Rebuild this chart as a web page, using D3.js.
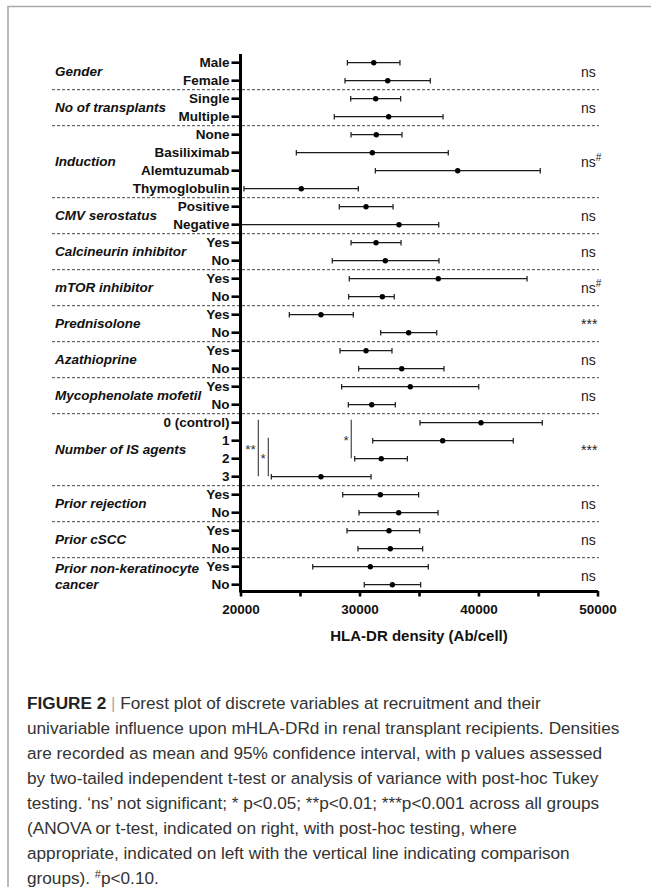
<!DOCTYPE html>
<html>
<head>
<meta charset="utf-8">
<script src="https://cdn.jsdelivr.net/npm/d3@7"></script>
<style>
  body { margin: 0; background: #fff; }
  svg { display: block; font-family: "Liberation Sans", Arial, sans-serif; }
  .noselect { user-select: none; }
</style>
</head>
<body>
<svg width="651" height="887"></svg>
<script>
// group headings and overall test result on the right
const groupNames = ["Gender", "No of transplants", "Induction", "CMV serostatus", "Calcineurin inhibitor",
    "mTOR inhibitor", "Prednisolone", "Azathioprine", "Mycophenolate mofetil", "Number of IS agents",
    "Prior rejection", "Prior cSCC", "Prior non-keratinocyte cancer"];
const groupSig = ["ns", "ns", "ns#", "ns", "ns", "ns#", "***", "ns", "ns", "***", "ns", "ns", "ns"];

// one entry per row
const rowGroup = [0,0, 1,1, 2,2,2,2, 3,3, 4,4, 5,5, 6,6, 7,7, 8,8, 9,9,9,9, 10,10, 11,11, 12,12];
const rowLabels = ["Male", "Female", "Single", "Multiple", "None", "Basiliximab", "Alemtuzumab", "Thymoglobulin",
    "Positive", "Negative", "Yes", "No", "Yes", "No", "Yes", "No", "Yes", "No", "Yes", "No",
    "0 (control)", "1", "2", "3", "Yes", "No", "Yes", "No", "Yes", "No"];
const means = [31200, 32370, 31360, 32450, 31410, 31080, 38250, 25110, 30550, 33320, 31390, 32170, 36620, 31920,
    26760, 34130, 30550, 33550, 34270, 31030, 40210, 36990, 31830, 26760, 31750, 33290, 32480, 32590, 30910, 32760];
const lower = [28980, 28780, 29260, 27880, 29290, 24690, 31330, 20290, 28300, 18500, 29290, 27710, 29140, 29090,
    24100, 31780, 28360, 29930, 28500, 29060, 35080, 31110, 29600, 22590, 28590, 29960, 28950, 29870, 26070, 30400];
const upper = [33400, 35950, 33460, 37020, 33570, 37460, 45190, 29900, 32820, 36660, 33490, 36680, 44080, 32920,
    29480, 36490, 32730, 37100, 40020, 33010, 45360, 42920, 34020, 30970, 34970, 36600, 35060, 35310, 35780, 35140];

// post-hoc comparisons (row indices), drawn as vertical lines on the left
const phFrom = [20, 21, 20];
const phTo = [23, 23, 22];
const phX = [21500, 22340, 29310];
const phLabel = ["**", "*", "*"];

const xTicks = [20000, 25000, 30000, 35000, 40000, 45000, 50000];

const captionLines = [
    "univariable influence upon mHLA-DRd in renal transplant recipients. Densities",
    "are recorded as mean and 95% confidence interval, with p values assessed",
    "by two-tailed independent t-test or analysis of variance with post-hoc Tukey",
    "testing. \u2018ns\u2019 not significant; * p<0.05; **p<0.01; ***p<0.001 across all groups",
    "(ANOVA or t-test, indicated on right, with post-hoc testing, where",
    "appropriate, indicated on left with the vertical line indicating comparison"
];

let svg = d3.select("svg");

// frame
svg.append("path").attr("d", "M8,887 V6.5 H651").attr("fill", "none")
    .attr("stroke", "#aaa").attr("stroke-width", 1.6);

const axisX0 = 240.5, axisTop = 54, axisBottom = 591;

let x = d3.scaleLinear().domain([20000, 50000]).range([axisX0, 597.5]);
let y = d3.scaleBand().domain(d3.range(rowLabels.length)).range([53.7, 593.7]);
const yc = i => y(i) + y.bandwidth() / 2;

// group extents
let groupRows = groupNames.map((g, gi) => d3.range(rowLabels.length).filter(i => rowGroup[i] === gi));

// dotted separators between groups
groupRows.slice(1).forEach(rows => {
    svg.append("line")
        .attr("x1", 52).attr("x2", 599)
        .attr("y1", y(rows[0])).attr("y2", y(rows[0]))
        .attr("stroke", "#444").attr("stroke-width", 1).attr("stroke-dasharray", "3,2");
});

// group labels
groupRows.forEach((rows, gi) => {
    let mid = (yc(rows[0]) + yc(rows[rows.length - 1])) / 2;
    let t = svg.append("text").attr("class", "noselect")
        .attr("x", 55).attr("font-size", 13.5).attr("font-weight", "bold").attr("font-style", "italic")
        .attr("fill", "#111");
    if (groupNames[gi] === "Prior non-keratinocyte cancer") {
        t.attr("y", mid - 7.7).attr("dominant-baseline", "central");
        t.append("tspan").attr("x", 55).text("Prior non-keratinocyte");
        t.append("tspan").attr("x", 55).attr("dy", 15.5).text("cancer");
    } else {
        t.attr("y", mid).attr("dominant-baseline", "central").text(groupNames[gi]);
    }

    // overall test on the right
    let s = svg.append("text").attr("x", 581).attr("y", mid + 5)
        .attr("font-size", 14).attr("fill", "#222");
    let sig = groupSig[gi];
    if (sig.endsWith("#")) {
        s.append("tspan").text(sig.slice(0, -1));
        s.append("tspan").attr("font-size", 10).attr("dy", -6).text("#");
    } else {
        s.text(sig);
    }
});

// error bars
let clip = svg.append("clipPath").attr("id", "plotClip");
clip.append("rect").attr("x", axisX0).attr("y", 0).attr("width", 400).attr("height", 887);

let bars = svg.append("g").attr("clip-path", "url(#plotClip)");
let rowsG = bars.selectAll(".row").data(d3.range(rowLabels.length)).enter()
    .append("g").attr("class", "row");

rowsG.append("line")
    .attr("x1", i => x(lower[i])).attr("x2", i => x(upper[i]))
    .attr("y1", i => yc(i)).attr("y2", i => yc(i))
    .attr("stroke", "#1a1a1a").attr("stroke-width", 1.3);
[lower, upper].forEach(arr => {
    rowsG.append("line")
        .attr("x1", i => x(arr[i])).attr("x2", i => x(arr[i]))
        .attr("y1", i => yc(i) - 2.8).attr("y2", i => yc(i) + 2.8)
        .attr("stroke", "#1a1a1a").attr("stroke-width", 1.2);
});
rowsG.append("circle")
    .attr("cx", i => x(means[i])).attr("cy", i => yc(i)).attr("r", 2.7)
    .attr("fill", "#000");

// post-hoc lines
phFrom.forEach((f, k) => {
    let y1 = yc(f) - 3, y2 = yc(phTo[k]) - 0.5;
    svg.append("line")
        .attr("x1", x(phX[k])).attr("x2", x(phX[k]))
        .attr("y1", y1).attr("y2", y2)
        .attr("stroke", "#555").attr("stroke-width", 1.3);
    svg.append("text")
        .attr("x", x(phX[k]) - 2.5).attr("y", (y1 + y2) / 2 + 6.5)
        .attr("text-anchor", "end").attr("font-size", 13.5).attr("fill", "#333")
        .text(phLabel[k]);
});

// y axis (category labels)
let yAxis = svg.append("g").attr("class", "noselect")
    .attr("transform", "translate(" + axisX0 + ",0)")
    .call(d3.axisLeft(y).tickSize(9).tickSizeOuter(0).tickPadding(2).tickFormat(i => rowLabels[i]));
yAxis.select(".domain").remove();
yAxis.selectAll(".tick line").attr("stroke", "#000").attr("stroke-width", 2.6);
yAxis.selectAll(".tick text")
    .attr("font-family", "\"Liberation Sans\", Arial, sans-serif")
    .attr("font-size", 13.5).attr("font-weight", "bold").attr("fill", "#111");
svg.append("line")
    .attr("x1", axisX0).attr("x2", axisX0).attr("y1", axisTop).attr("y2", axisBottom + 1.5)
    .attr("stroke", "#000").attr("stroke-width", 3);

// x axis
let xAxis = svg.append("g").attr("class", "noselect")
    .attr("transform", "translate(0," + axisBottom + ")")
    .call(d3.axisBottom(x).tickValues(xTicks).tickSize(5.5).tickSizeOuter(0).tickPadding(8)
        .tickFormat(d => d % 10000 === 0 ? d3.format("d")(d) : ""));
xAxis.select(".domain").attr("stroke", "#000").attr("stroke-width", 3);
xAxis.selectAll(".tick line").attr("stroke", "#000").attr("stroke-width", 2.6);
xAxis.selectAll(".tick text")
    .attr("font-family", "\"Liberation Sans\", Arial, sans-serif")
    .attr("font-size", 13.5).attr("font-weight", "bold").attr("fill", "#111");

svg.append("text")
    .attr("x", x(35000)).attr("y", 640.5)
    .attr("text-anchor", "middle").attr("font-size", 15).attr("font-weight", "bold").attr("fill", "#111")
    .text("HLA-DR density (Ab/cell)");

// caption
const capX = 27, capY0 = 709, capStep = 25, capSize = 17.2;
let cap = svg.append("g").attr("font-size", capSize).attr("fill", "#333");
let l1 = cap.append("text").attr("x", capX).attr("y", capY0);
l1.append("tspan").attr("font-weight", "bold").attr("fill", "#222").text("FIGURE 2");
l1.append("tspan").attr("fill", "#aaa").text(" | ");
l1.append("tspan").text("Forest plot of discrete variables at recruitment and their");
captionLines.forEach((s, k) => {
    cap.append("text").attr("x", capX).attr("y", capY0 + capStep * (k + 1)).text(s);
});
let last = cap.append("text").attr("x", capX).attr("y", capY0 + capStep * 7);
last.append("tspan").text("groups). ");
last.append("tspan").attr("font-size", 11).attr("dy", -6).text("#");
last.append("tspan").attr("dy", 6).text("p<0.10.");
</script>
</body>
</html>
